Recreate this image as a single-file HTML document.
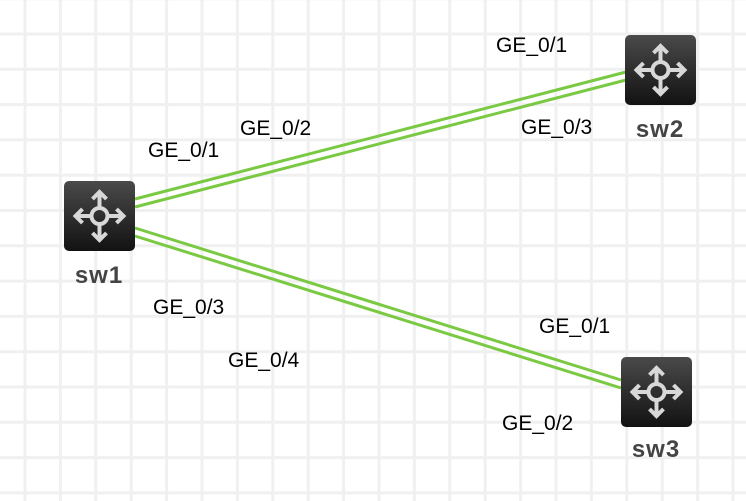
<!DOCTYPE html>
<html><head><meta charset="utf-8"><style>
html,body{margin:0;padding:0;background:#fff;}
svg{display:block;}
text{font-family:"Liberation Sans",Arial,sans-serif;}
</style></head><body>
<svg width="746" height="501" viewBox="0 0 746 501" xmlns="http://www.w3.org/2000/svg">
<defs>
<linearGradient id="g" x1="0" y1="0" x2="0" y2="1">
<stop offset="0" stop-color="#4a4a4a"/><stop offset="1" stop-color="#121212"/>
</linearGradient>
<g id="sw">
<rect x="0" y="0" width="71" height="70" rx="5" fill="url(#g)"/>
<g stroke="#d8d8d8" fill="none" stroke-width="4" stroke-linecap="butt" stroke-linejoin="miter">
<circle cx="35.5" cy="35" r="8"/>
<line x1="35.5" y1="27" x2="35.5" y2="12"/>
<line x1="35.5" y1="43" x2="35.5" y2="58"/>
<line x1="27.5" y1="35" x2="12" y2="35"/>
<line x1="43.5" y1="35" x2="59" y2="35"/>
<polyline points="28.5,18 35.5,11 42.5,18"/>
<polyline points="28.5,52 35.5,59 42.5,52"/>
<polyline points="18.5,28 11.5,35 18.5,42"/>
<polyline points="52.5,28 59.5,35 52.5,42"/>
</g>
</g>
</defs>
<g stroke="#f0f0f0" stroke-width="3" id="grid"></g>
<script>
(function(){var g=document.getElementById('grid'),ns='http://www.w3.org/2000/svg';
for(var x=25-35.4;x<760;x+=35.4){var l=document.createElementNS(ns,'line');l.setAttribute('x1',x);l.setAttribute('x2',x);l.setAttribute('y1',0);l.setAttribute('y2',501);g.appendChild(l);}
for(var y=34-35.3;y<520;y+=35.3){var l=document.createElementNS(ns,'line');l.setAttribute('y1',y);l.setAttribute('y2',y);l.setAttribute('x1',0);l.setAttribute('x2',746);g.appendChild(l);}})();
</script>
<g stroke="#7ac943" stroke-width="3">
<line x1="135" y1="199" x2="626" y2="72"/>
<line x1="135" y1="207" x2="626" y2="80"/>
<line x1="135" y1="228" x2="621" y2="380"/>
<line x1="135" y1="236" x2="621" y2="388"/>
</g>
<use href="#sw" x="64" y="181"/>
<use href="#sw" x="625" y="35"/>
<use href="#sw" x="621" y="357"/>
<g font-size="24" font-weight="bold" fill="#444" text-anchor="middle" letter-spacing="1">
<text x="99" y="283">sw1</text>
<text x="660" y="137">sw2</text>
<text x="656" y="457">sw3</text>
</g>
<g font-size="21" fill="#000">
<text x="148" y="157">GE_0/1</text>
<text x="240" y="135">GE_0/2</text>
<text x="496" y="52">GE_0/1</text>
<text x="521" y="134">GE_0/3</text>
<text x="153" y="314">GE_0/3</text>
<text x="228" y="367">GE_0/4</text>
<text x="539" y="333">GE_0/1</text>
<text x="502" y="430">GE_0/2</text>
</g>
</svg>
</body></html>
